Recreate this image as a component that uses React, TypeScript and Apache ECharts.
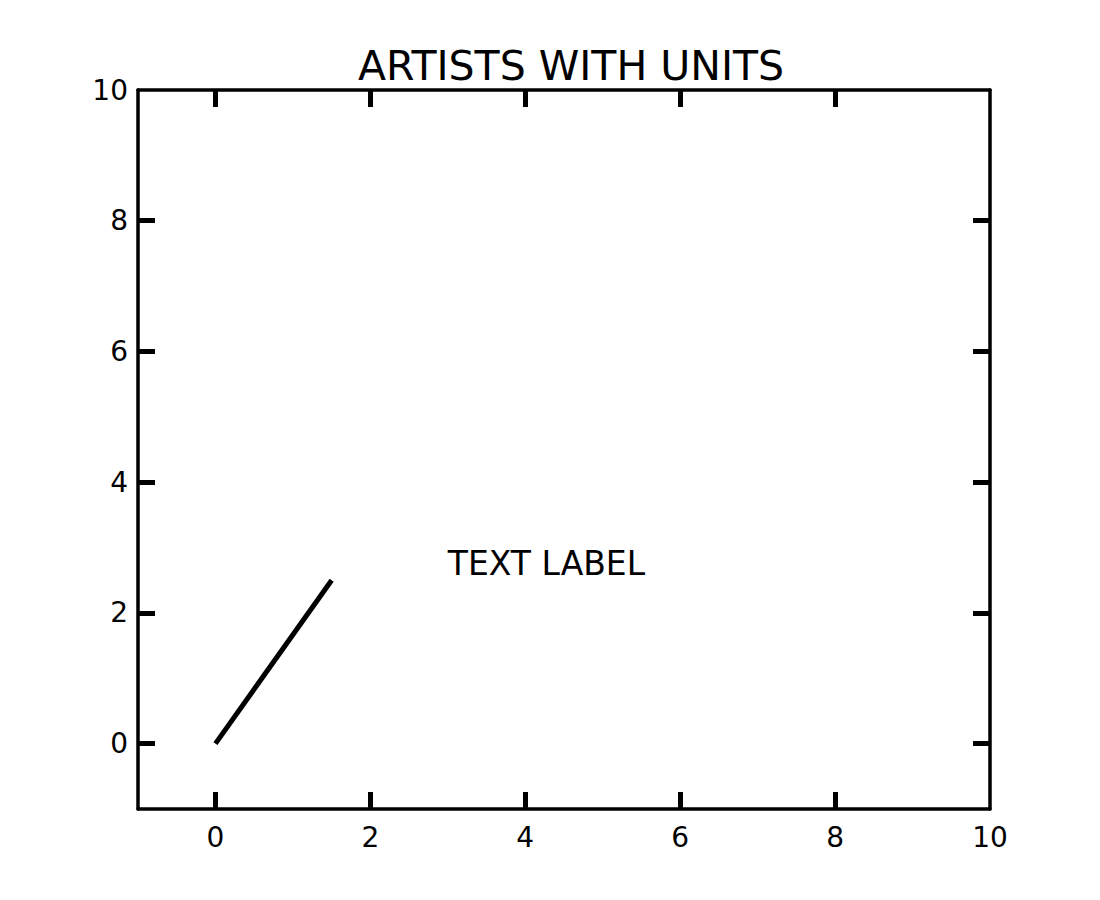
import React, { useEffect, useRef } from "react";
import * as echarts from "echarts";

const titleText = "ARTISTS WITH UNITS";
const xRange = [-1, 10];
const yRange = [-1, 10];
const tickValues = [0, 2, 4, 6, 8];
const labelValues = [0, 2, 4, 6, 8, 10];
const lineX = [0, 1.5];
const lineY = [0, 2.5];
const textPoint = [3, 2.5];
const textLabel = "TEXT LABEL";

const FONT = "'DejaVu Sans', 'Noto Sans', sans-serif";

export default function App() {
  const ref = useRef<HTMLDivElement>(null);
  useEffect(() => {
    if (!ref.current) return;
    const chart = echarts.init(ref.current, undefined, { renderer: "svg" });
    const axisLine = { show: true, onZero: false, lineStyle: { color: "#000", width: 3.5 } };
    const tick = {
      show: true,
      inside: true,
      length: 17,
      customValues: tickValues,
      lineStyle: { color: "#000", width: 5 },
    };
    const lab = {
      show: true,
      customValues: labelValues,
      color: "#000",
      fontFamily: FONT,
      fontSize: 28,
    };
    chart.setOption({
      animation: false,
      backgroundColor: "#fff",
      title: {
        text: titleText,
        left: 566,
        textAlign: "center",
        top: 40,
        textStyle: { fontFamily: FONT, fontSize: 41, fontWeight: "normal", color: "#000" },
      },
      grid: { left: 138, right: 110, top: 90, bottom: 91, containLabel: false },
      xAxis: [
        {
          type: "value",
          min: xRange[0],
          max: xRange[1],
          position: "bottom",
          axisLine,
          axisTick: tick,
          axisLabel: { ...lab, margin: 14 },
          splitLine: { show: false },
        },
        {
          type: "value",
          min: xRange[0],
          max: xRange[1],
          position: "top",
          axisLine,
          axisTick: tick,
          axisLabel: { show: false },
          splitLine: { show: false },
        },
      ],
      yAxis: [
        {
          type: "value",
          min: yRange[0],
          max: yRange[1],
          position: "left",
          axisLine,
          axisTick: tick,
          axisLabel: { ...lab, margin: 10 },
          splitLine: { show: false },
        },
        {
          type: "value",
          min: yRange[0],
          max: yRange[1],
          position: "right",
          axisLine,
          axisTick: tick,
          axisLabel: { show: false },
          splitLine: { show: false },
        },
      ],
      series: [
        {
          type: "line",
          data: lineX.map((x, i) => [x, lineY[i]]),
          showSymbol: false,
          lineStyle: { color: "#000", width: 5 },
          silent: true,
        },
        {
          type: "scatter",
          data: [{ value: textPoint, name: textLabel }],
          symbolSize: 0,
          itemStyle: { color: "#000" },
          label: {
            show: true,
            position: [0, 0],
            align: "left",
            verticalAlign: "bottom",
            formatter: (p: any) => p.name,
            fontFamily: FONT,
            fontSize: 33,
            color: "#000",
            opacity: 1,
          },
          emphasis: { disabled: true },
          silent: true,
        },
      ],
    });
    return () => chart.dispose();
  }, []);
  return (
    <div
      ref={ref}
      style={{ position: "fixed", left: 0, top: 0, width: 1100, height: 900 }}
    />
  );
}
